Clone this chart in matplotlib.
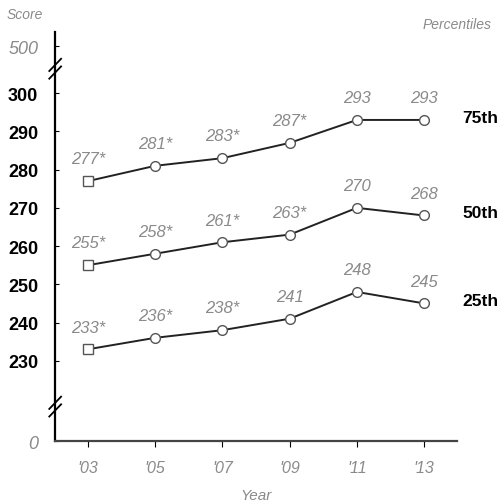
import matplotlib.pyplot as plt

years = [2003, 2005, 2007, 2009, 2011, 2013]
year_labels = ["'03", "'05", "'07", "'09", "'11", "'13"]
p75 = [277, 281, 283, 287, 293, 293]
p50 = [255, 258, 261, 263, 270, 268]
p25 = [233, 236, 238, 241, 248, 245]
p75_labels = ["277*", "281*", "283*", "287*", "293", "293"]
p50_labels = ["255*", "258*", "261*", "263*", "270", "268"]
p25_labels = ["233*", "236*", "238*", "241", "248", "245"]
series_names = ["75th", "50th", "25th"]
y_ticks = [230, 240, 250, 260, 270, 280, 290, 300]

plt.rcParams['font.family'] = ['Liberation Sans Narrow', 'Liberation Sans', 'DejaVu Sans']
gray = '#8a8a8a'

fig = plt.figure(figsize=(5.02, 5.02), dpi=100)
ax = fig.add_axes([0.1096, 0.1195, 0.801, 0.8147])
ax.set_xlim(2002.02, 2013.98)
ax.set_ylim(209.7, 316)

for vals, labs, name in zip([p75, p50, p25], [p75_labels, p50_labels, p25_labels], series_names):
  ax.plot(years, vals, color='#222222', lw=1.4, zorder=2)
  ax.plot(years[:1], vals[:1], ls='none', marker='s', ms=7, mfc='white', mec='#555555', mew=1, zorder=3)
  ax.plot(years[1:], vals[1:], ls='none', marker='o', ms=7, mfc='white', mec='#555555', mew=1, zorder=3)
  for x, v, t in zip(years, vals, labs):
    ax.annotate(t, (x, v), xytext=(0, 16), textcoords='offset points', ha='center', va='center',
                fontsize=12, color=gray, style='italic')
  ax.annotate(name, (1.0, vals[-1]), xycoords=('axes fraction', 'data'), xytext=(4, 2),
              textcoords='offset points', ha='left', va='center', fontsize=12.5, fontweight='bold',
              annotation_clip=False)

ax.set_yticks(y_ticks + [312.3, 209])
ax.set_yticklabels([str(v) for v in y_ticks] + ['500', '0'])
for lab in ax.get_yticklabels():
  if lab.get_text() in ('500', '0'):
    lab.set_color(gray)
    lab.set_fontweight('normal')
    lab.set_style('italic')
  else:
    lab.set_fontweight('bold')
  lab.set_fontsize(13)
ax.tick_params(axis='y', direction='in', length=3, pad=12)

ax.set_xticks(years)
ax.set_xticklabels(year_labels, color=gray, fontsize=11.5, style='italic')
ax.tick_params(axis='x', direction='out', length=4, pad=10)
ax.set_xlabel('Year', color=gray, fontsize=11, style='italic', labelpad=9)

ax.spines['top'].set_visible(False)
ax.spines['right'].set_visible(False)
ax.spines['left'].set_linewidth(1.6)
ax.spines['bottom'].set_linewidth(1.6)
ax.spines['bottom'].set_color('#444444')

# axis break marks
for yb in (306.4, 218):
  for dy in (-1.0, 1.0):
    ax.plot([2001.85, 2002.2], [yb + dy - 1.6, yb + dy + 1.6], color='black', lw=1.3, clip_on=False)

fig.text(0.05, 0.97, 'Score', color=gray, fontsize=10, style='italic', ha='center', va='center')
fig.text(0.91, 0.95, 'Percentiles', color=gray, fontsize=10, style='italic', ha='center', va='center')

fig.savefig('out.png', dpi=100)
